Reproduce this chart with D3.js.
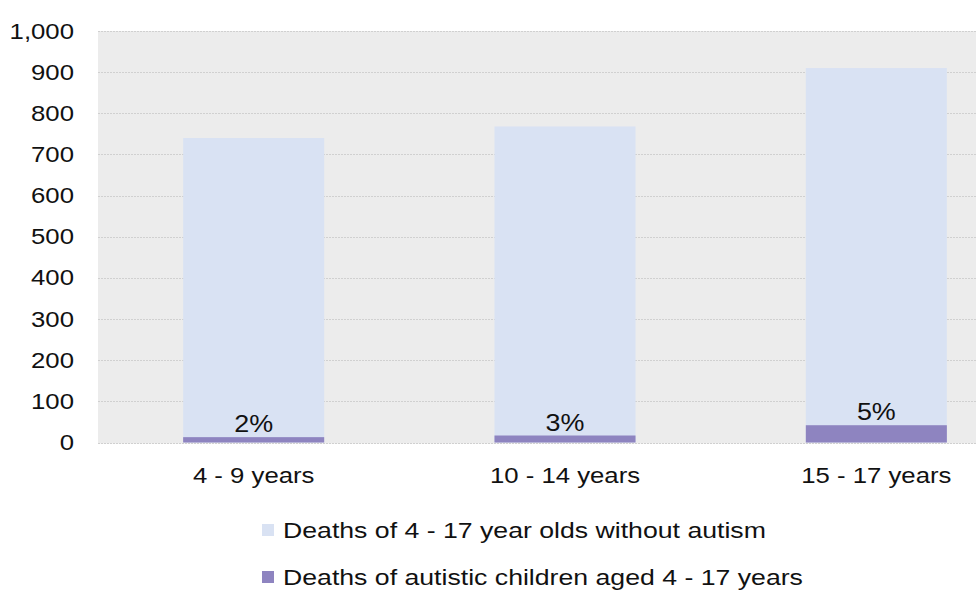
<!DOCTYPE html>
<html>
<head>
<meta charset="utf-8">
<script src="https://cdn.jsdelivr.net/npm/d3@7"></script>
<style>
  html, body { margin: 0; padding: 0; background: #ffffff; }
  svg { display: block; font-family: "Liberation Sans", Arial, sans-serif; }
</style>
</head>
<body>
<svg id="chart" width="976" height="592"></svg>
<script>
// Age groups and death counts
const categories = ["4 - 9 years", "10 - 14 years", "15 - 17 years"];
const withoutAutism = [740, 768, 910];
const autistic = [13, 17, 42];
const shareLabels = ["2%", "3%", "5%"];
const yTicks = [0, 100, 200, 300, 400, 500, 600, 700, 800, 900, 1000];
const seriesNames = ["Deaths of 4 - 17 year olds without autism", "Deaths of autistic children aged 4 - 17 years"];
const seriesColors = ["#d9e2f3", "#8e84c0"];

const svg = d3.select("#chart");
const plot = { left: 98, top: 31, right: 1032, bottom: 442.5 };
const FONT = 22;        // text size
const SX = 1.17;        // horizontal stretch of the lettering
const INK = "#111111";

const x = d3.scaleBand()
  .domain(categories)
  .range([plot.left, plot.right])
  .paddingInner(0.547)
  .paddingOuter(0.2735);

const y = d3.scaleLinear()
  .domain([0, 1000])
  .range([plot.bottom, plot.top]);

// Plot background
svg.append("rect")
  .attr("x", plot.left).attr("y", plot.top)
  .attr("width", plot.right - plot.left)
  .attr("height", plot.bottom - plot.top + 1)
  .attr("fill", "#ececec");

// Gridlines
svg.append("g")
  .selectAll("line")
  .data(yTicks)
  .join("line")
  .attr("x1", plot.left).attr("x2", plot.right)
  .attr("y1", d => Math.round(y(d)) + 0.5)
  .attr("y2", d => Math.round(y(d)) + 0.5)
  .attr("stroke", "#d0d0d0")
  .attr("stroke-width", 1.2)
  .attr("stroke-dasharray", "2,1");

// Y axis labels
const yAxis = d3.axisLeft(y)
  .tickValues(yTicks)
  .tickFormat(d3.format(","))
  .tickSize(0)
  .tickPadding(0);
const yg = svg.append("g")
  .attr("transform", `translate(${plot.left - 24},0)`)
  .call(yAxis);
yg.select(".domain").remove();
yg.selectAll("text")
  .attr("x", 0)
  .attr("dy", "0.32em")
  .attr("font-size", FONT)
  .attr("fill", INK)
  .attr("font-family", "Liberation Sans, Arial, sans-serif")
  .attr("transform", `scale(${SX},1)`);

// X axis labels
const xAxis = d3.axisBottom(x).tickSize(0).tickPadding(0);
const xg = svg.append("g")
  .attr("transform", `translate(0,${plot.bottom})`)
  .call(xAxis);
xg.select(".domain").remove();
xg.selectAll("text")
  .attr("y", 40.5)
  .attr("dy", 0)
  .attr("font-size", FONT)
  .attr("fill", INK)
  .attr("font-family", "Liberation Sans, Arial, sans-serif")
  .attr("transform", `scale(${SX},1)`);

// Bars: deaths without autism
svg.append("g")
  .selectAll("rect")
  .data(withoutAutism)
  .join("rect")
  .attr("x", (d, i) => x(categories[i]))
  .attr("y", d => y(d))
  .attr("width", x.bandwidth())
  .attr("height", d => y(0) - y(d))
  .attr("fill", seriesColors[0]);

// Bars: deaths of autistic children
svg.append("g")
  .selectAll("rect")
  .data(autistic)
  .join("rect")
  .attr("x", (d, i) => x(categories[i]))
  .attr("y", d => y(d))
  .attr("width", x.bandwidth())
  .attr("height", d => y(0) - y(d))
  .attr("fill", seriesColors[1]);

// Share labels above the autistic bars
svg.append("g")
  .selectAll("g")
  .data(autistic)
  .join("g")
  .attr("transform", (d, i) => `translate(${x(categories[i]) + x.bandwidth() / 2},${y(d) - 5})`)
  .append("text")
  .attr("text-anchor", "middle")
  .attr("font-size", 23)
  .attr("fill", INK)
  .attr("transform", `scale(${SX},1)`)
  .text((d, i) => shareLabels[i]);

// Legend
const legend = svg.append("g")
  .selectAll("g")
  .data(seriesNames)
  .join("g")
  .attr("transform", (d, i) => `translate(262,${538 + i * 47})`);
legend.append("rect")
  .attr("x", 0).attr("y", -14)
  .attr("width", 12).attr("height", 12)
  .attr("fill", (d, i) => seriesColors[i]);
legend.append("g")
  .attr("transform", "translate(21,0)")
  .append("text")
  .attr("font-size", 22.5)
  .attr("fill", INK)
  .attr("transform", "scale(1.185,1)")
  .text(d => d);
</script>
</body>
</html>
